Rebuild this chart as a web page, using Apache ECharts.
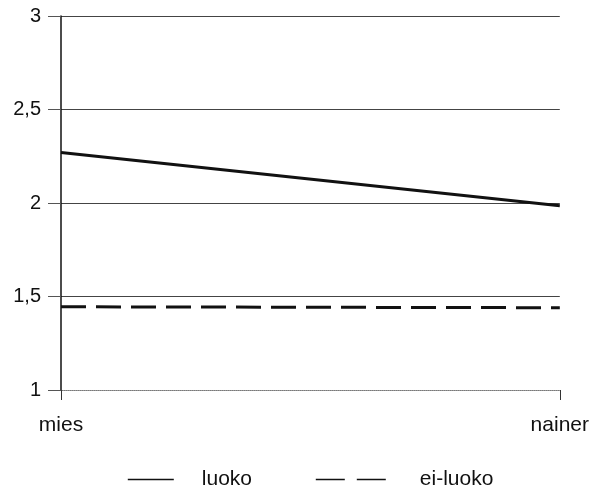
<!DOCTYPE html>
<html>
<head>
<meta charset="utf-8">
<script src="https://cdn.jsdelivr.net/npm/echarts@6/dist/echarts.min.js"></script>
<style>html,body{margin:0;padding:0;background:#fff}#c{width:592px;height:491px}</style>
</head>
<body>
<div id="c"></div>
<script>
var categories = ['mies', 'nainer'];
var luoko = [2.27, 1.985];
var eiLuoko = [1.445, 1.44];
var seriesNames = ['luoko', 'ei-luoko'];

var chart = echarts.init(document.getElementById('c'), null, {renderer: 'canvas'});
var font = 'Liberation Sans, Arial, sans-serif';
var legendText = {fontFamily: font, fontSize: 21, color: '#111'};
chart.setOption({
  animation: false,
  backgroundColor: '#fff',
  grid: {left: 61, right: 30, top: 16, bottom: 101, containLabel: false},
  legend: [
    {
      top: 464, left: 122, itemWidth: 46, itemHeight: 12,
      itemStyle: {opacity: 0},
      lineStyle: {width: 1.6},
      textStyle: Object.assign({padding: [0, 0, 0, 23]}, legendText),
      data: [{name: seriesNames[0]}]
    },
    {
      top: 464, left: 310, itemWidth: 72, itemHeight: 12,
      itemStyle: {opacity: 0},
      lineStyle: {width: 1.6, type: [29, 12]},
      textStyle: Object.assign({padding: [0, 0, 0, 27]}, legendText),
      data: [{name: seriesNames[1]}]
    }
  ],
  xAxis: {
    type: 'category', data: categories, boundaryGap: false,
    axisLine: {lineStyle: {color: '#999', type: 'dotted', width: 1}},
    axisTick: {show: true, length: 10, alignWithLabel: true, lineStyle: {color: '#333'}},
    axisLabel: {fontFamily: font, fontSize: 21, color: '#111', margin: 25}
  },
  yAxis: {
    type: 'value', min: 1, max: 3, interval: 0.5,
    axisLine: {show: true, lineStyle: {color: '#111', width: 1.5}},
    axisTick: {show: true, length: 13, lineStyle: {color: '#555'}},
    splitLine: {show: true, lineStyle: {color: '#444', width: 1}},
    axisLabel: {fontFamily: font, fontSize: 20, color: '#111', margin: 20,
      formatter: function (v) { return String(v).replace('.', ','); }}
  },
  series: [
    {name: seriesNames[0], type: 'line', data: luoko, symbol: 'none', showSymbol: false,
     lineStyle: {color: '#111', width: 3}, itemStyle: {color: '#111'}},
    {name: seriesNames[1], type: 'line', data: eiLuoko, symbol: 'none', showSymbol: false,
     lineStyle: {color: '#111', width: 3, type: [25, 10]}, itemStyle: {color: '#111'}}
  ]
});
</script>
</body>
</html>
